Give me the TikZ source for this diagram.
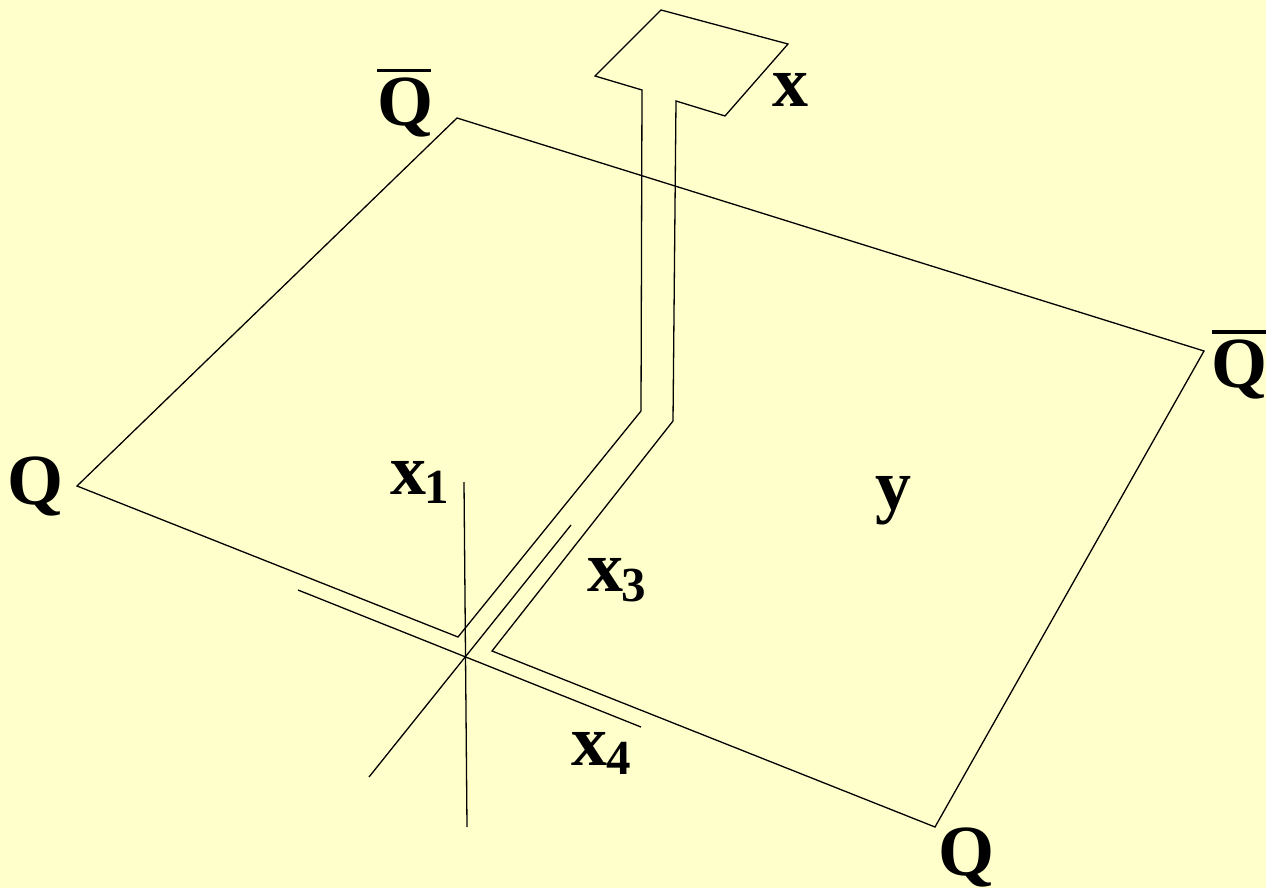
\documentclass[tikz,border=0pt]{standalone}
\usepackage{fontspec}
\setmainfont{Liberation Serif}
\definecolor{bgyellow}{RGB}{255,255,204}
\tikzset{
  edgeline/.style={draw=black,line width=1.3pt,line join=miter},
  barline/.style={draw=black,line width=3.2pt},
  lab/.style={font=\fontsize{72}{72}\selectfont\bfseries,inner sep=0pt,anchor=base},
  sub/.style={font=\fontsize{49}{49}\selectfont\bfseries,inner sep=0pt,anchor=base}
}
\begin{document}
\begin{tikzpicture}[x=1pt,y=-1pt]
\fill[bgyellow] (0,0) rectangle (1266,888);
\useasboundingbox (0,0) rectangle (1266,888);
\coordinate (a1) at (458,637);
\coordinate (a2) at (641,411);
\coordinate (a3) at (642,90);
\coordinate (a4) at (595,76);
\coordinate (a5) at (661,10);
\coordinate (a6) at (788,44);
\coordinate (a7) at (725,116);
\coordinate (a8) at (676,101);
\coordinate (a9) at (673,421);
\coordinate (a10) at (492,651);
\coordinate (a11) at (935,827);
\coordinate (a12) at (1204,351);
\coordinate (a13) at (457,118);
\coordinate (a14) at (77,486);
\draw[edgeline] (a1) -- (a2) -- (a3) -- (a4) -- (a5) -- (a6) -- (a7) -- (a8) -- (a9) -- (a10) -- (a11) -- (a12) -- (a13) -- (a14) -- cycle;
\coordinate (b1) at (298,590);
\coordinate (b2) at (641,727);
\coordinate (c1) at (571,525);
\coordinate (c2) at (369,777);
\coordinate (d1) at (464,482);
\coordinate (d2) at (467,827);
\draw[edgeline] (b1) -- (b2);
\draw[edgeline] (c1) -- (c2);
\draw[edgeline] (d1) -- (d2);
\node[lab] (qa) at (405,126) {Q};
\coordinate (qab1) at (377,70.5);
\coordinate (qab2) at (431,70.5);
\draw[barline] (qab1) -- (qab2);
\node[lab] (qb) at (1239,387) {Q};
\coordinate (qbb1) at (1212,332);
\coordinate (qbb2) at (1266,332);
\draw[barline] (qbb1) -- (qbb2);
\node[lab] (qc) at (36,504) {Q};
\node[lab] (qd) at (966,875) {Q};
\node[lab] (x) at (790,107) {x};
\node[lab] (y) at (893,509) {y};
\node[lab] (x1) at (408,494) {x};
\node[sub] (s1) at (437,503) {1};
\node[lab] (x3) at (605,591) {x};
\node[sub] (s3) at (634,601) {3};
\node[lab] (x4) at (589,765) {x};
\node[sub] (s4) at (618.5,774) {4};
\end{tikzpicture}
\end{document}
